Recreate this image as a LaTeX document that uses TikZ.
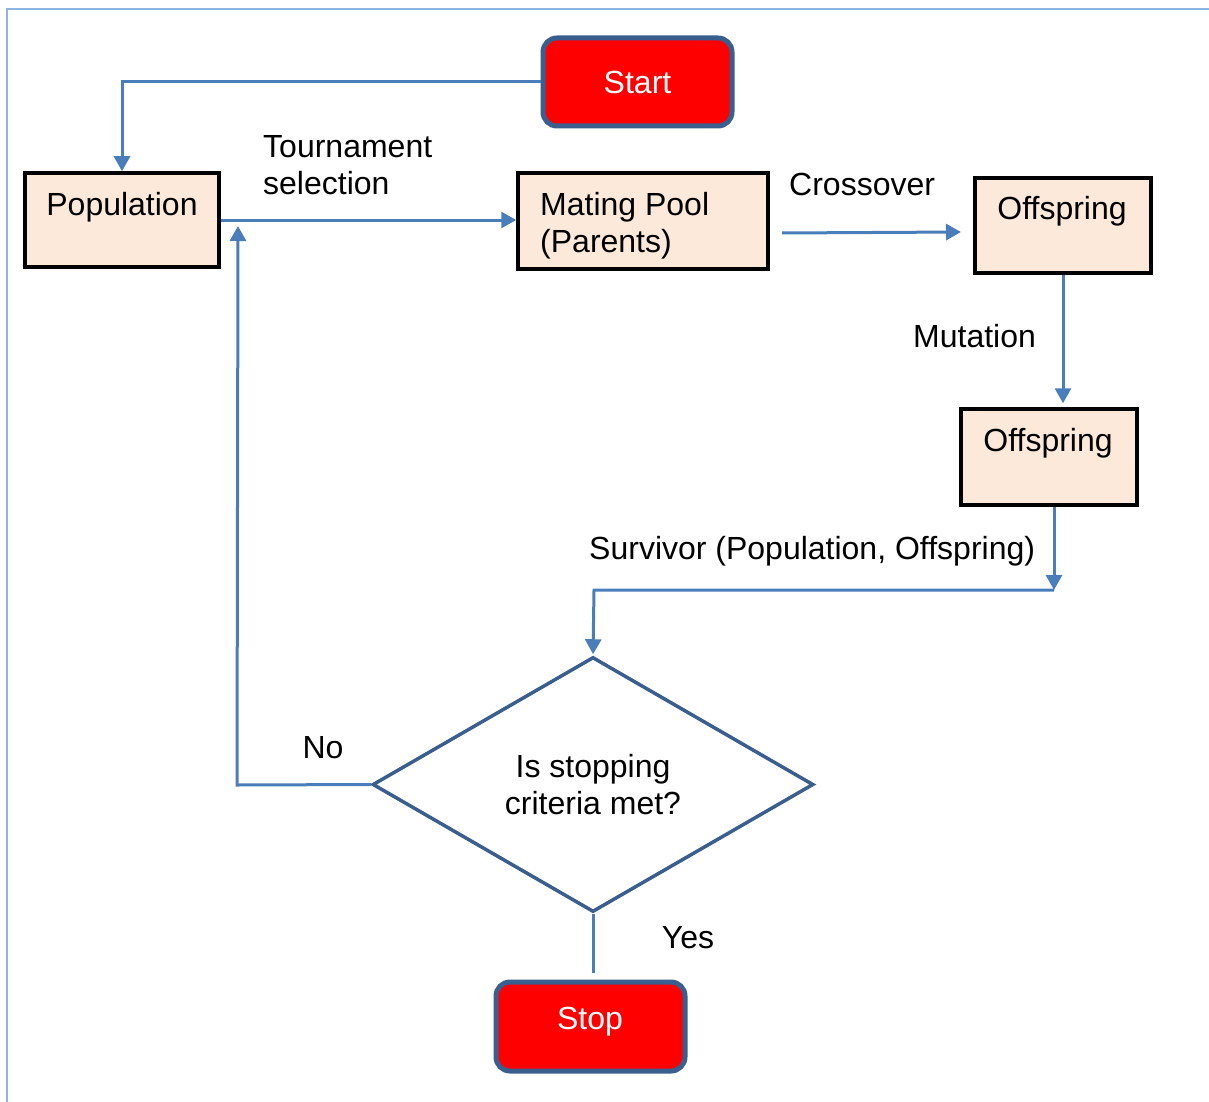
\documentclass[tikz,border=0pt]{standalone}
\usepackage{fontspec}
\setmainfont{Liberation Sans}
\usetikzlibrary{arrows.meta,shapes.geometric}
\definecolor{arr}{HTML}{4A7EBB}
\definecolor{dkb}{HTML}{3A5F8F}
\definecolor{peach}{HTML}{FDE9D9}
\definecolor{frame}{HTML}{8EB4E3}
\begin{document}
\begin{tikzpicture}[x=1pt,y=-1pt,
  font=\fontsize{32}{37}\selectfont,
  box/.style={draw=black, line width=3.5pt, fill=peach, inner sep=0pt},
  term/.style={draw=dkb, line width=5pt, fill=red, rounded corners=14pt, inner sep=0pt, text=white},
  conn/.style={draw=arr, line width=3pt},
  arrow/.style={conn, -{Triangle[length=15pt,width=16pt]}},
  lbl/.style={inner sep=0pt, align=left}]
\useasboundingbox (0,0) rectangle (1209,1102);
\draw[frame, line width=1.5pt] (7,1102) coordinate (fb) -- (7,9) coordinate (fc) -- (1209,9) coordinate (fr);

\node[term, minimum width=189pt, minimum height=88pt] (start) at (637.5,82) {Start};
\node[term, minimum width=189pt, minimum height=89pt] (stop) at (590.5,1026.5) {};
\node[lbl, text=white] (stopt) at (590,1022) {Stop};

\node[box, minimum width=194pt, minimum height=94pt] (pop) at (122,220) {};
\node[lbl] (popt) at (122,207) {Population};
\node[box, minimum width=250pt, minimum height=96pt] (mate) at (643,221) {};
\node[lbl, anchor=west] (matet) at (540,226) {Mating Pool\\(Parents)};
\node[box, minimum width=176pt, minimum height=95pt] (off1) at (1063,225.5) {};
\node[lbl] (off1t) at (1062,211) {Offspring};
\node[box, minimum width=176pt, minimum height=96pt] (off2) at (1049,457) {};
\node[lbl] (off2t) at (1048,443) {Offspring};

\node[draw=dkb, line width=3.5pt, shape=diamond, minimum width=441pt, minimum height=255pt, inner sep=0pt] (d) at (593,784.5) {};
\node[lbl, align=center] (dt) at (593,785) {Is stopping\\criteria met?};

\node[lbl, anchor=west] (ts) at (263,165) {Tournament\\selection};
\node[lbl, anchor=west] (co) at (789,184) {Crossover};
\node[lbl, anchor=west] (mu) at (913,336) {Mutation};
\node[lbl, anchor=west] (su) at (589,551) {Survivor (Population, Offspring)};
\node[lbl] (no) at (323,748) {No};
\node[lbl] (yes) at (688,938) {Yes};

\draw[arrow] (start.west) -| (pop.north);
\draw[arrow] (pop.east) -- (pop.east -| mate.west);
\coordinate (c1) at (782,233);
\coordinate (c2) at (961,232);
\draw[arrow] (c1) -- (c2);
\draw[arrow, shorten >=4pt] (off1.south) -- (off1.south |- off2.north);
\coordinate (s1) at (1054,590);
\coordinate (s2) at (594,590);
\draw[arrow] (off2.south -| s1) -- (s1);
\draw[arrow, shorten >=1pt] (s1) -- (s2) -- (d.north);
\coordinate (nw) at (237,785);
\coordinate (ne) at (238,226);
\draw[arrow] (d.west) -- (nw) -- (ne);
\draw[conn, shorten >=7pt] (d.south) -- (d.south |- stop.north);
\end{tikzpicture}
\end{document}
